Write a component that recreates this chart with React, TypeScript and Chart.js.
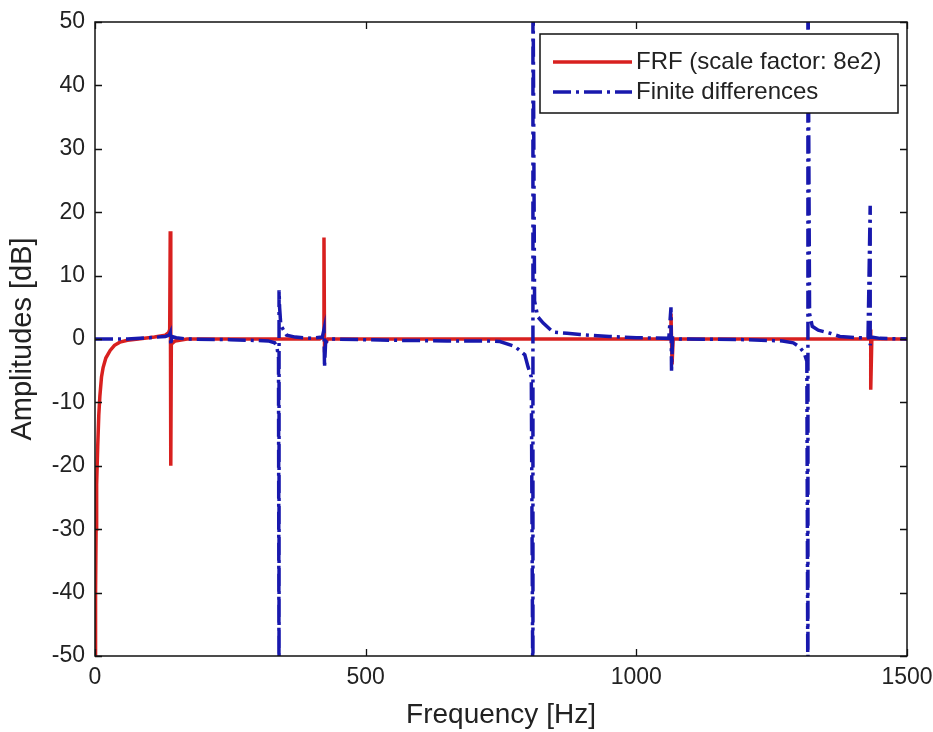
import React, { useEffect, useRef } from "react";
import { Chart, registerables } from "chart.js";

Chart.register(...registerables);

// FRF (scale factor: 8e2)
const frfFreq = [0, 1, 2, 3, 5, 7, 9, 12, 15, 20, 28, 36, 46, 60, 80, 110, 130, 136, 138, 139, 140, 141, 148, 170, 415, 421, 423, 423, 424, 430, 1062, 1064, 1064, 1066, 1068, 1428, 1431, 1433, 1433, 1435, 1500];
const frfAmp = [-50, -40, -30, -23, -17, -12, -9, -6, -4.5, -3, -1.8, -1, -0.5, -0.2, 0, 0.3, 0.6, 1, 1.5, 17, -20, -0.8, -0.3, 0, 0, 0.3, 1, 16, -1, 0, 0, 0.5, 4, -4, 0, 0, 0.5, 1.5, -8, 0, 0];

// Finite differences
const fdFreq = [0, 60, 100, 130, 137, 139, 140, 142, 150, 170, 250, 320, 332, 336, 339, 340, 340, 341, 343, 345, 354, 370, 400, 420, 423, 424, 426, 435, 550, 650, 720, 748, 776, 794, 800, 806, 809, 809, 812, 818, 828, 846, 872, 896, 950, 1000, 1060, 1064, 1065, 1067, 1080, 1200, 1270, 1290, 1302, 1310, 1315, 1317, 1317, 1320, 1325, 1336, 1358, 1376, 1410, 1428, 1432, 1432, 1434, 1450, 1500];
const fdAmp = [0, 0, 0.2, 0.4, 0.6, 1, -1, 0.4, 0.2, 0, -0.1, -0.3, -0.6, -1.2, -3, -60, 7.7, 5, 2.5, 1.9, 0.6, 0.3, 0.1, 0.3, 1.5, -4.5, -0.5, 0, -0.2, -0.3, -0.3, -0.4, -1.2, -2.5, -4.4, -6, -60, 60, 6, 3.5, 2.5, 1.1, 0.9, 0.7, 0.4, 0.2, 0.1, 5, -5, 0.2, 0, -0.1, -0.3, -0.6, -1.3, -2.2, -3.5, -60, 60, 4, 2, 1.4, 0.9, 0.4, 0.2, 0.2, 21, -1, 0.3, 0.1, 0];

const xTickValues = [0, 500, 1000, 1500];
const yTickValues = [-50, -40, -30, -20, -10, 0, 10, 20, 30, 40, 50];
const legendLabels = ["FRF (scale factor: 8e2)", "Finite differences"];

const RED = "#d8201f";
const BLUE = "#1818ad";
const FONT = "'Liberation Sans', Arial, Helvetica, sans-serif";
const BLUE_DASH = [18, 5, 3, 5];

const framePlugin = {
  id: "matlabFrame",
  afterDatasetsDraw(chart: any) {
    const { ctx, chartArea, scales } = chart;
    const { left, right, top, bottom } = chartArea;
    const x = scales.x;
    const y = scales.y;
    ctx.save();
    ctx.strokeStyle = "#111";
    ctx.lineWidth = 1.5;
    ctx.strokeRect(left, top, right - left, bottom - top);
    ctx.lineWidth = 1.3;
    const tl = 7;
    ctx.beginPath();
    xTickValues.forEach((v) => {
      const px = Math.round(x.getPixelForValue(v)) + 0.5;
      ctx.moveTo(px, bottom);
      ctx.lineTo(px, bottom - tl);
      ctx.moveTo(px, top);
      ctx.lineTo(px, top + tl);
    });
    yTickValues.forEach((v) => {
      const py = Math.round(y.getPixelForValue(v)) + 0.5;
      ctx.moveTo(left, py);
      ctx.lineTo(left + tl, py);
      ctx.moveTo(right, py);
      ctx.lineTo(right - tl, py);
    });
    ctx.stroke();
    ctx.restore();
  },
  afterDraw(chart: any) {
    const { ctx, chartArea } = chart;
    const bx = chartArea.right - 367;
    const by = chartArea.top + 12;
    const bw = 358;
    const bh = 79;
    ctx.save();
    ctx.fillStyle = "#fff";
    ctx.fillRect(bx, by, bw, bh);
    ctx.strokeStyle = "#111";
    ctx.lineWidth = 1.5;
    ctx.strokeRect(bx, by, bw, bh);
    const rows = [by + 28, by + 58];
    const colors = [RED, BLUE];
    const dashes = [[], BLUE_DASH];
    rows.forEach((ry, i) => {
      ctx.beginPath();
      ctx.setLineDash(dashes[i]);
      ctx.strokeStyle = colors[i];
      ctx.lineWidth = 3.5;
      ctx.moveTo(bx + 13, ry);
      ctx.lineTo(bx + 92, ry);
      ctx.stroke();
      ctx.setLineDash([]);
      ctx.fillStyle = "#222";
      ctx.font = `24px ${FONT}`;
      ctx.textBaseline = "middle";
      ctx.textAlign = "left";
      ctx.fillText(legendLabels[i], bx + 96, ry);
    });
    ctx.restore();
  },
};

export default function App() {
  const canvasRef = useRef<HTMLCanvasElement | null>(null);

  useEffect(() => {
    if (!canvasRef.current) return;
    const frfData = frfFreq.map((f, i) => ({ x: f, y: frfAmp[i] }));
    const fdData = fdFreq.map((f, i) => ({ x: f, y: fdAmp[i] }));
    const chart = new Chart(canvasRef.current, {
      type: "line",
      data: {
        datasets: [
          {
            label: legendLabels[0],
            data: frfData,
            borderColor: RED,
            backgroundColor: RED,
            borderWidth: 3.5,
            pointRadius: 0,
            tension: 0,
            clip: 0,
            order: 2,
          },
          {
            label: legendLabels[1],
            data: fdData,
            borderColor: BLUE,
            backgroundColor: BLUE,
            borderWidth: 3.5,
            borderDash: BLUE_DASH,
            pointRadius: 0,
            tension: 0,
            clip: 0,
            order: 1,
          },
        ],
      },
      options: {
        responsive: false,
        animation: false,
        layout: { padding: { left: 0, top: 22, right: 26, bottom: 0 } },
        plugins: {
          legend: { display: false },
          tooltip: { enabled: false },
        },
        scales: {
          x: {
            type: "linear",
            min: 0,
            max: 1500,
            afterFit: (s: any) => {
              s.height = 76;
              s.paddingLeft = 0;
              s.paddingRight = 0;
            },
            afterBuildTicks: (s: any) => {
              s.ticks = xTickValues.map((v) => ({ value: v }));
            },
            grid: { display: false, drawTicks: false },
            border: { display: false },
            ticks: {
              padding: 8,
              color: "#222",
              font: { family: FONT, size: 23 },
              maxRotation: 0,
              callback: (v: any) => String(v),
            },
            title: {
              display: true,
              text: "Frequency [Hz]",
              color: "#222",
              font: { family: FONT, size: 28 },
              padding: { top: 0, bottom: 0 },
            },
          },
          y: {
            type: "linear",
            min: -50,
            max: 50,
            afterFit: (s: any) => {
              s.width = 95;
              s.paddingTop = 0;
              s.paddingBottom = 0;
            },
            afterBuildTicks: (s: any) => {
              s.ticks = yTickValues.map((v) => ({ value: v }));
            },
            grid: { display: false, drawTicks: false },
            border: { display: false },
            ticks: {
              padding: 10,
              color: "#222",
              font: { family: FONT, size: 23 },
              callback: (v: any) => String(v),
            },
            title: {
              display: true,
              text: "Amplitudes [dB]",
              color: "#222",
              font: { family: FONT, size: 29 },
              padding: { top: 6, bottom: 0 },
            },
          },
        },
      },
      plugins: [framePlugin],
    });
    return () => chart.destroy();
  }, []);

  return (
    <div style={{ position: "absolute", left: 0, top: 0, width: 933, height: 732, background: "#fff" }}>
      <canvas ref={canvasRef} width={933} height={732} style={{ display: "block" }} />
    </div>
  );
}
